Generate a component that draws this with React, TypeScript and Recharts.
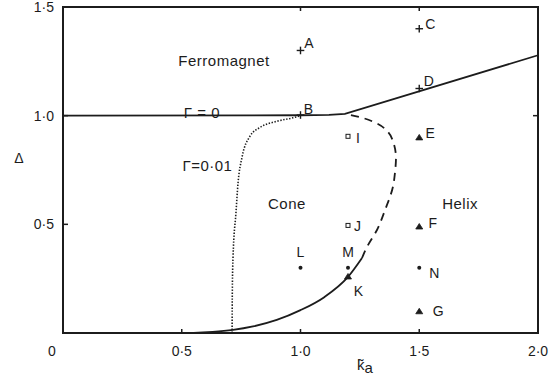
import React from 'react';
import { ComposedChart, Line, Scatter, XAxis, YAxis, usePlotArea } from 'recharts';

const FONT = '"Liberation Sans", Arial, Helvetica, sans-serif';
const INK = '#1c1c1c';

// chart box
const CHART_W = 558;
const CHART_H = 378;
const MARGIN = { top: 7, right: 20, bottom: 0, left: 0 };
const Y_AXIS_W = 63;
const X_AXIS_H = 45;
const PLOT_W = CHART_W - Y_AXIS_W - MARGIN.right;
const PLOT_H = CHART_H - MARGIN.top - X_AXIS_H;

// axis ticks
const xTicks = [0, 0.5, 1.0, 1.5, 2.0];
const yTicks = [0.5, 1.0, 1.5];
const topTicks = [1.0, 1.5];
const rightTicks = [1.0];

// axis ranges
const X_MAX = 2.0;
const Y_MAX = 1.5;

// Γ = 0 phase boundary (ferromagnet above)
const gammaZeroLine = [
  { x: 0, y: 1.0 },
  { x: 1.0, y: 1.002 },
  { x: 1.12, y: 1.004 },
  { x: 1.187, y: 1.008 },
  { x: 2.0, y: 1.278 },
];

// cone / helix boundary, dashed part (ordered by increasing Δ)
const coneHelixDashed = [
  { x: 1.259, y: 0.345 },
  { x: 1.28, y: 0.396 },
  { x: 1.322, y: 0.474 },
  { x: 1.356, y: 0.566 },
  { x: 1.389, y: 0.672 },
  { x: 1.398, y: 0.74 },
  { x: 1.402, y: 0.805 },
  { x: 1.39, y: 0.88 },
  { x: 1.368, y: 0.925 },
  { x: 1.32, y: 0.965 },
  { x: 1.26, y: 0.99 },
  { x: 1.187, y: 1.008 },
];

// cone / helix boundary, solid part
const coneHelixSolid = [
  { x: 0.45, y: 0 },
  { x: 0.55, y: 0.001 },
  { x: 0.63, y: 0.005 },
  { x: 0.716, y: 0.014 },
  { x: 0.8, y: 0.03 },
  { x: 0.9, y: 0.06 },
  { x: 1.0, y: 0.105 },
  { x: 1.1, y: 0.165 },
  { x: 1.2, y: 0.258 },
  { x: 1.259, y: 0.345 },
];

// Γ = 0.01 boundary (dotted)
const gammaSmallDotted = [
  { x: 0.712, y: 0 },
  { x: 0.713, y: 0.2 },
  { x: 0.716, y: 0.35 },
  { x: 0.728, y: 0.55 },
  { x: 0.737, y: 0.69 },
  { x: 0.754, y: 0.81 },
  { x: 0.787, y: 0.905 },
  { x: 0.83, y: 0.946 },
  { x: 0.9, y: 0.974 },
  { x: 0.968, y: 0.99 },
  { x: 1.0, y: 1.0 },
];

// sample points, grouped by marker
const crossPoints = [
  { name: 'A', x: 1.0, y: 1.3 },
  { name: 'B', x: 1.0, y: 1.003 },
  { name: 'C', x: 1.5, y: 1.4 },
  { name: 'D', x: 1.5, y: 1.125 },
];
const squarePoints = [
  { name: 'I', x: 1.2, y: 0.905 },
  { name: 'J', x: 1.2, y: 0.495 },
];
const trianglePoints = [
  { name: 'E', x: 1.5, y: 0.9 },
  { name: 'F', x: 1.5, y: 0.49 },
  { name: 'G', x: 1.5, y: 0.1 },
  { name: 'K', x: 1.2, y: 0.26 },
];
const dotPoints = [
  { name: 'L', x: 1.0, y: 0.3 },
  { name: 'M', x: 1.2, y: 0.3 },
  { name: 'N', x: 1.5, y: 0.3 },
];

// region names
const regionLabels = [
  { x: 0.678, y: 1.252, text: 'Ferromagnet' },
  { x: 0.585, y: 1.015, text: 'Γ = 0' },
  { x: 0.608, y: 0.773, text: 'Γ=0·01' },
  { x: 0.943, y: 0.596, text: 'Cone' },
  { x: 1.672, y: 0.596, text: 'Helix' },
];

// where each point letter sits relative to its marker (px)
const letterOffset: Record<string, [number, number]> = {
  A: [8.5, -7],
  B: [8, -6],
  C: [11, -5],
  D: [9.5, -7.5],
  E: [11, -4.5],
  F: [13.5, -4],
  G: [19, 0],
  N: [15, 5],
  L: [0, -16],
  M: [0, -16],
  K: [10.5, 15],
  I: [10, 1.5],
  J: [9.5, 1],
};

const fmt = (v: number) => (v === 0 ? '0' : v.toFixed(1).replace('.', '·'));

const Letter = ({ cx, cy, name }: { cx: number; cy: number; name: string }) => {
  const [dx, dy] = letterOffset[name] || [8, -6];
  return (
    <text x={cx + dx} y={cy + dy + 5} textAnchor="middle" fontFamily={FONT} fontSize={14} fill={INK}>
      {name}
    </text>
  );
};

const CrossShape = (p: any) => (
  <g>
    <line x1={p.cx - 3.8} x2={p.cx + 3.8} y1={p.cy} y2={p.cy} stroke={INK} strokeWidth={1.4} />
    <line x1={p.cx} x2={p.cx} y1={p.cy - 3.8} y2={p.cy + 3.8} stroke={INK} strokeWidth={1.4} />
    <Letter cx={p.cx} cy={p.cy} name={p.payload.name} />
  </g>
);

const SquareShape = (p: any) => (
  <g>
    <rect x={p.cx - 2} y={p.cy - 2} width={4} height={4} fill="#fff" stroke={INK} strokeWidth={1} />
    <Letter cx={p.cx} cy={p.cy} name={p.payload.name} />
  </g>
);

const TriangleShape = (p: any) => (
  <g>
    <path
      d={`M${p.cx - 3.5},${p.cy + 2.5} L${p.cx + 3.5},${p.cy + 2.5} L${p.cx},${p.cy - 3} Z`}
      fill={INK}
      stroke={INK}
      strokeWidth={0.8}
    />
    <Letter cx={p.cx} cy={p.cy} name={p.payload.name} />
  </g>
);

const DotShape = (p: any) => (
  <g>
    <circle cx={p.cx} cy={p.cy} r={2} fill={INK} />
    <Letter cx={p.cx} cy={p.cy} name={p.payload.name} />
  </g>
);

const RegionText = (p: any) => (
  <text
    x={p.cx}
    y={p.cy + 5.5}
    textAnchor="middle"
    fontFamily={FONT}
    fontSize={15}
    letterSpacing={0.5}
    fill={INK}
  >
    {p.payload.text}
  </text>
);

// bottom axis tick: label plus inward mark; the last tick also carries the right side of the box
const BottomTick = (props: any) => {
  const { x, y, payload } = props;
  const v = payload.value as number;
  const inner = v > 0 && v < X_MAX;
  const shift = v === 0 ? -11 : 0;
  return (
    <g>
      {inner && <line x1={x} x2={x} y1={y} y2={y - 4} stroke={INK} strokeWidth={1.5} />}
      {v === X_MAX && <line x1={x} x2={x} y1={y + 1} y2={y - PLOT_H - 1} stroke={INK} strokeWidth={2} />}
      <text x={x + shift} y={y + 23} textAnchor="middle" fontFamily={FONT} fontSize={14} fill={INK}>
        {fmt(v)}
      </text>
    </g>
  );
};

// left axis tick: label plus inward mark; the top tick also carries the top side of the box
const LeftTick = (props: any) => {
  const { x, y, payload } = props;
  const v = payload.value as number;
  const inner = v < Y_MAX;
  return (
    <g>
      {inner && <line x1={x} x2={x + 5} y1={y} y2={y} stroke={INK} strokeWidth={1.5} />}
      {v === Y_MAX && <line x1={x - 1} x2={x + PLOT_W + 1} y1={y} y2={y} stroke={INK} strokeWidth={2} />}
      <text x={x - 9} y={y + 5} textAnchor="end" fontFamily={FONT} fontSize={14} fill={INK}>
        {fmt(v)}
      </text>
    </g>
  );
};

// box around the plot area, with the short inward ticks on its top and right sides
const PlotFrame = () => {
  const area = usePlotArea();
  if (!area) return null;
  const right = area.x + area.width;
  const bottom = area.y + area.height;
  const px = (v: number) => area.x + (v / X_MAX) * area.width;
  const py = (v: number) => bottom - (v / Y_MAX) * area.height;
  return (
    <g>
      <rect x={area.x} y={area.y} width={area.width} height={area.height} fill="none" stroke={INK} strokeWidth={2} />
      {topTicks.map((v) => (
        <line key={`t${v}`} x1={px(v)} x2={px(v)} y1={area.y} y2={area.y + 4} stroke={INK} strokeWidth={1.5} />
      ))}
      {rightTicks.map((v) => (
        <line key={`r${v}`} x1={right - 5} x2={right} y1={py(v)} y2={py(v)} stroke={INK} strokeWidth={1.5} />
      ))}
    </g>
  );
};

const XLabel = (props: any) => {
  const vb = props.viewBox;
  return (
    <text x={vb.x + 294} y={vb.y + 37} fontFamily={FONT} fontSize={15} fill={INK}>
      k̃
      <tspan fontSize={15} dy={3}>a</tspan>
    </text>
  );
};

const YLabel = (props: any) => {
  const vb = props.viewBox;
  return (
    <text x={vb.x + 19} y={vb.y + 156} textAnchor="middle" fontFamily={FONT} fontSize={14} fill={INK}>
      Δ
    </text>
  );
};

export default function App() {
  return (
    <div style={{ position: 'absolute', left: 0, top: 0, width: CHART_W, height: CHART_H, background: '#fff' }}>
      <ComposedChart width={CHART_W} height={CHART_H} margin={MARGIN}>
        <XAxis
          dataKey="x"
          type="number"
          domain={[0, X_MAX]}
          ticks={xTicks}
          interval={0}
          height={X_AXIS_H}
          tickSize={0}
          tickMargin={0}
          tickLine={false}
          axisLine={{ stroke: INK, strokeWidth: 2 }}
          tick={(p: any) => <BottomTick {...p} />}
          label={(p: any) => <XLabel {...p} />}
        />
        <YAxis
          dataKey="y"
          type="number"
          domain={[0, Y_MAX]}
          ticks={yTicks}
          interval={0}
          width={Y_AXIS_W}
          tickSize={0}
          tickMargin={0}
          tickLine={false}
          axisLine={{ stroke: INK, strokeWidth: 2 }}
          tick={(p: any) => <LeftTick {...p} />}
          label={(p: any) => <YLabel {...p} />}
        />

        <PlotFrame />

        <Line
          data={gammaSmallDotted}
          dataKey="y"
          type="monotone"
          stroke={INK}
          strokeWidth={1.6}
          strokeDasharray="1.4 1.6"
          dot={false}
          activeDot={false}
          isAnimationActive={false}
        />
        <Line
          data={coneHelixSolid}
          dataKey="y"
          type="monotone"
          stroke={INK}
          strokeWidth={1.8}
          dot={false}
          activeDot={false}
          isAnimationActive={false}
        />
        <Line
          data={coneHelixDashed}
          dataKey="y"
          type="monotoneY"
          stroke={INK}
          strokeWidth={1.8}
          strokeDasharray="8 6"
          dot={false}
          activeDot={false}
          isAnimationActive={false}
        />
        <Line
          data={gammaZeroLine}
          dataKey="y"
          type="linear"
          stroke={INK}
          strokeWidth={1.8}
          dot={false}
          activeDot={false}
          isAnimationActive={false}
        />

        <Scatter data={regionLabels} shape={RegionText} isAnimationActive={false} />
        <Scatter data={crossPoints} shape={CrossShape} isAnimationActive={false} />
        <Scatter data={squarePoints} shape={SquareShape} isAnimationActive={false} />
        <Scatter data={trianglePoints} shape={TriangleShape} isAnimationActive={false} />
        <Scatter data={dotPoints} shape={DotShape} isAnimationActive={false} />
      </ComposedChart>
    </div>
  );
}
